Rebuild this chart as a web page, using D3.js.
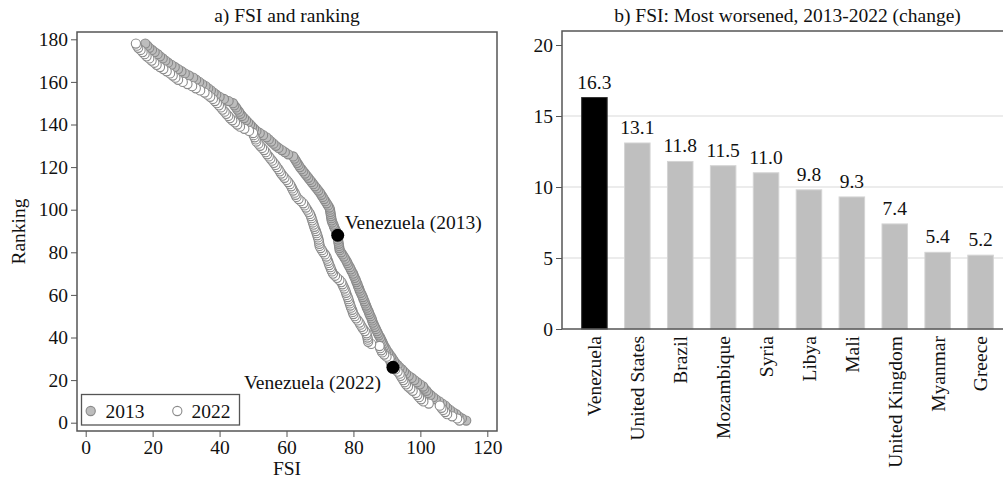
<!DOCTYPE html>
<html>
<head>
<meta charset="utf-8">
<script src="https://cdn.jsdelivr.net/npm/d3@7"></script>
<style>
  body { margin: 0; background: #fff; }
  svg text { font-family: "Liberation Serif", "DejaVu Serif", serif; fill: #111; }
</style>
</head>
<body>
<svg width="1003" height="479"></svg>
<script>
// FSI score of each country, listed by ranking (rank 1 = most fragile)
var fsi2013 = [
  113.7, 112.4, 111.4, 110.7, 109.7, 108.8, 108.0, 107.4, 106.5, 105.6,
  104.6, 103.8, 103.0, 102.3, 101.8, 101.2, 100.8, 99.9, 99.0, 98.2,
  97.4, 96.5, 95.7, 95.1, 94.5, 93.8, 93.2, 92.6, 92.1, 91.7,
  91.3, 90.8, 90.4, 89.9, 89.6, 89.2, 88.9, 88.6, 88.3, 88.0,
  87.6, 87.3, 87.0, 86.7, 86.4, 86.1, 85.8, 85.6, 85.4, 85.1,
  84.8, 84.6, 84.3, 84.0, 83.8, 83.5, 83.3, 83.0, 82.8, 82.5,
  82.2, 81.9, 81.7, 81.4, 81.2, 80.9, 80.7, 80.4, 80.1, 79.9,
  79.5, 79.2, 78.9, 78.5, 78.2, 77.9, 77.5, 77.1, 76.7, 76.3,
  75.9, 75.8, 75.7, 75.6, 75.5, 75.4, 75.4, 75.3, 75.0, 74.8,
  74.5, 74.2, 74.0, 73.7, 73.5, 73.4, 73.3, 73.2, 73.1, 73.0,
  72.8, 72.4, 72.0, 71.6, 71.2, 70.8, 70.4, 70.0, 69.5, 69.0,
  68.5, 68.0, 67.5, 67.0, 66.5, 66.0, 65.5, 65.0, 64.5, 64.0,
  63.6, 63.2, 62.8, 62.4, 62.0, 60.5, 59.5, 58.6, 57.6, 56.8,
  56.1, 55.4, 54.7, 54.0, 53.0, 52.0, 51.0, 50.3, 49.7, 49.1,
  48.5, 47.9, 47.3, 46.7, 46.2, 45.8, 45.3, 44.9, 44.4, 44.0,
  42.7, 41.3, 40.0, 39.0, 38.2, 37.4, 36.6, 35.8, 34.8, 33.9,
  33.0, 32.1, 30.8, 29.6, 28.6, 27.6, 26.6, 25.6, 24.6, 23.8,
  23.0, 22.2, 21.5, 20.6, 19.8, 19.0, 18.4, 17.8
];
var fsi2022 = [
  111.7, 111.0, 109.5, 108.0, 107.4, 106.8, 106.3, 105.8, 102.5, 100.9,
  100.2, 99.6, 99.1, 98.6, 97.7, 97.0, 96.3, 95.7, 95.3, 94.9,
  94.5, 94.1, 93.8, 93.2, 92.5, 91.8, 91.5, 91.3, 91.0, 90.8,
  89.9, 89.2, 88.6, 88.3, 88.0, 87.8, 85.3, 84.4, 84.3, 84.2,
  84.0, 83.9, 83.4, 82.9, 82.5, 82.1, 81.8, 81.3, 80.8, 80.4,
  80.0, 79.8, 79.6, 79.3, 79.1, 78.9, 78.7, 78.5, 78.3, 78.0,
  77.8, 77.6, 77.3, 77.0, 76.7, 76.4, 75.8, 75.1, 74.5, 73.9,
  73.6, 73.3, 73.1, 72.8, 72.6, 72.4, 72.1, 71.9, 71.5, 71.0,
  70.6, 70.2, 69.9, 69.8, 69.7, 69.6, 69.4, 69.2, 69.0, 68.8,
  68.5, 68.3, 68.1, 67.9, 67.7, 67.5, 67.3, 67.0, 66.6, 66.2,
  65.8, 65.4, 65.0, 64.3, 63.6, 63.0, 62.7, 62.4, 62.0, 61.7,
  61.4, 61.0, 60.5, 60.0, 59.4, 58.9, 58.4, 58.0, 57.6, 57.1,
  56.7, 56.2, 55.7, 55.2, 54.7, 54.2, 53.8, 53.3, 52.7, 52.1,
  51.6, 51.0, 50.8, 50.5, 50.2, 50.0, 48.8, 47.4, 46.1, 45.3,
  44.6, 43.8, 43.1, 42.6, 42.0, 41.5, 40.9, 40.4, 39.8, 39.2,
  38.6, 38.0, 37.2, 36.4, 35.5, 34.2, 32.9, 31.8, 30.4, 29.0,
  27.6, 26.8, 26.0, 25.2, 24.2, 23.2, 22.2, 21.2, 20.5, 19.7,
  19.0, 18.2, 17.6, 17.0, 16.4, 15.7, 15.3, 15.0
];
var venezuela = [
  {year: "2013", fsi: 75.3, rank: 88},
  {year: "2022", fsi: 91.8, rank: 26}
];

var countries = ["Venezuela", "United States", "Brazil", "Mozambique", "Syria",
                 "Libya", "Mali", "United Kingdom", "Myanmar", "Greece"];
var change = [16.3, 13.1, 11.8, 11.5, 11.0, 9.8, 9.3, 7.4, 5.4, 5.2];

var xTicks = [0, 20, 40, 60, 80, 100, 120];
var yTicks = [0, 20, 40, 60, 80, 100, 120, 140, 160, 180];
var barTicks = [0, 5, 10, 15, 20];

var svg = d3.select("svg");
var frameColor = "#555";
var fontSize = 19.5;

function styleAxis(g) {
    g.select(".domain").remove();
    g.selectAll("line").attr("stroke", frameColor);
    g.selectAll("text").attr("font-size", fontSize)
        .attr("font-family", "Liberation Serif").attr("fill", "#111");
}

// ---------- panel a ----------
var A = {left: 77, right: 497, top: 32, bottom: 431};
var x = d3.scaleLinear().domain([0, 120]).range([85.7, 487.3]);
var y = d3.scaleLinear().domain([0, 180]).range([422.7, 39.3]);

var pa = svg.append("g");

pa.append("g")
    .attr("transform", "translate(0," + A.bottom + ")")
    .call(d3.axisBottom(x).tickValues(xTicks).tickSize(6).tickPadding(3))
    .call(styleAxis);

pa.append("g")
    .attr("transform", "translate(" + A.left + ",0)")
    .call(d3.axisLeft(y).tickValues(yTicks).tickSize(6).tickPadding(3))
    .call(styleAxis);

pa.append("rect")
    .attr("x", A.left).attr("y", A.top)
    .attr("width", A.right - A.left).attr("height", A.bottom - A.top)
    .attr("fill", "none").attr("stroke", frameColor).attr("stroke-width", 1.5);

pa.append("g").selectAll("circle")
    .data(fsi2013)
    .enter().append("circle")
    .attr("cx", function(d) { return x(d); })
    .attr("cy", function(d, i) { return y(i + 1); })
    .attr("r", 4.6)
    .attr("fill", "#bdbdbd")
    .attr("stroke", "#8a8a8a")
    .attr("stroke-width", 1.1);

pa.append("g").selectAll("circle")
    .data(fsi2022)
    .enter().append("circle")
    .attr("cx", function(d) { return x(d); })
    .attr("cy", function(d, i) { return y(i + 1); })
    .attr("r", 4.6)
    .attr("fill", "#fff")
    .attr("stroke", "#8a8a8a")
    .attr("stroke-width", 1.1);

pa.append("g").selectAll("circle")
    .data(venezuela)
    .enter().append("circle")
    .attr("cx", function(d) { return x(d.fsi); })
    .attr("cy", function(d) { return y(d.rank); })
    .attr("r", 6.5)
    .attr("fill", "#000");

pa.append("text")
    .attr("x", x(venezuela[0].fsi) + 7).attr("y", y(venezuela[0].rank) - 6)
    .attr("font-size", fontSize)
    .text("Venezuela (2013)");
pa.append("text")
    .attr("x", x(venezuela[1].fsi) - 12).attr("y", y(venezuela[1].rank) + 22)
    .attr("text-anchor", "end")
    .attr("font-size", fontSize)
    .text("Venezuela (2022)");

// legend
var lg = pa.append("g");
lg.append("rect")
    .attr("x", 81.5).attr("y", 394.5).attr("width", 158).attr("height", 30.5)
    .attr("fill", "#fff").attr("stroke", frameColor).attr("stroke-width", 1.3);
lg.append("circle").attr("cx", 90.7).attr("cy", 411).attr("r", 4.6)
    .attr("fill", "#bdbdbd").attr("stroke", "#8a8a8a").attr("stroke-width", 1.1);
lg.append("text").attr("x", 105.5).attr("y", 417.5).attr("font-size", fontSize).text("2013");
lg.append("circle").attr("cx", 177.3).attr("cy", 411).attr("r", 4.6)
    .attr("fill", "#fff").attr("stroke", "#8a8a8a").attr("stroke-width", 1.1);
lg.append("text").attr("x", 191.5).attr("y", 417.5).attr("font-size", fontSize).text("2022");

pa.append("text")
    .attr("x", (A.left + A.right) / 2).attr("y", 22)
    .attr("text-anchor", "middle").attr("font-size", fontSize)
    .text("a) FSI and ranking");
pa.append("text")
    .attr("x", (A.left + A.right) / 2).attr("y", 475)
    .attr("text-anchor", "middle").attr("font-size", fontSize)
    .text("FSI");
pa.append("text")
    .attr("transform", "translate(25," + (A.top + A.bottom) / 2 + ") rotate(-90)")
    .attr("text-anchor", "middle").attr("font-size", fontSize)
    .text("Ranking");

// ---------- panel b ----------
var B = {left: 562, right: 1013, top: 31, bottom: 329};
var xb = d3.scaleBand().domain(countries).range([B.left, B.right])
    .paddingInner(0.405).paddingOuter(0.458);
var yb = d3.scaleLinear().domain([0, 20]).range([329, 45]);

var pb = svg.append("g");

pb.append("g").selectAll("line")
    .data([5, 10, 15])
    .enter().append("line")
    .attr("x1", B.left).attr("x2", B.right)
    .attr("y1", function(d) { return yb(d); })
    .attr("y2", function(d) { return yb(d); })
    .attr("stroke", "#e6e6e6").attr("stroke-width", 1.3);

pb.append("g").selectAll("rect")
    .data(change)
    .enter().append("rect")
    .attr("x", function(d, i) { return xb(countries[i]); })
    .attr("y", function(d) { return yb(d); })
    .attr("width", xb.bandwidth())
    .attr("height", function(d) { return yb(0) - yb(d); })
    .attr("fill", function(d, i) { return i === 0 ? "#000" : "#bfbfbf"; })
    .attr("stroke", function(d, i) { return i === 0 ? "#333" : "#d4d4d4"; })
    .attr("stroke-width", 1);

pb.append("g").selectAll("text")
    .data(change)
    .enter().append("text")
    .attr("x", function(d, i) { return xb(countries[i]) + xb.bandwidth() / 2; })
    .attr("y", function(d) { return yb(d) - 9; })
    .attr("text-anchor", "middle")
    .attr("font-size", fontSize)
    .text(function(d) { return d.toFixed(1); });

pb.append("g")
    .attr("transform", "translate(" + B.left + ",0)")
    .call(d3.axisLeft(yb).tickValues(barTicks).tickSize(6).tickPadding(3))
    .call(styleAxis);

pb.append("g")
    .attr("transform", "translate(0," + B.bottom + ")")
    .call(d3.axisBottom(xb).tickSize(0).tickPadding(0))
    .call(styleAxis)
    .call(function(g) {
        g.selectAll("text")
            .attr("transform", "rotate(-90)")
            .attr("text-anchor", "end")
            .attr("x", -7).attr("y", 0).attr("dy", "0.35em");
    });

pb.append("path")
    .attr("d", "M" + B.right + "," + B.top + "H" + B.left + "V" + B.bottom + "H" + B.right)
    .attr("fill", "none").attr("stroke", frameColor).attr("stroke-width", 1.5);

pb.append("text")
    .attr("x", (B.left + B.right) / 2).attr("y", 22)
    .attr("text-anchor", "middle").attr("font-size", fontSize)
    .text("b) FSI: Most worsened, 2013-2022 (change)");
</script>
</body>
</html>
